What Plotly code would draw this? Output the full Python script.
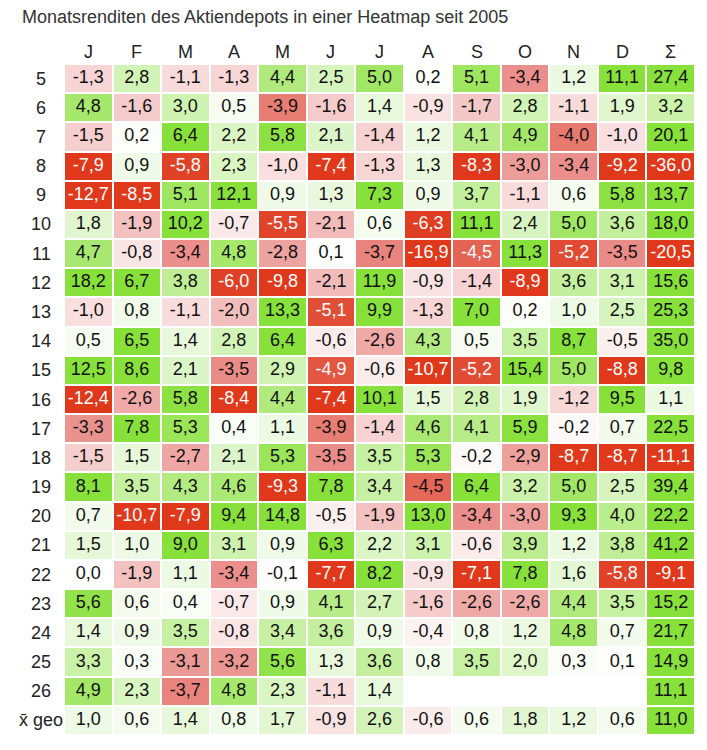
import plotly.graph_objects as go

months = ["J", "F", "M", "A", "M", "J", "J", "A", "S", "O", "N", "D", "Σ"]
row_labels = ["5", "6", "7", "8", "9", "10", "11", "12", "13", "14", "15", "16",
              "17", "18", "19", "20", "21", "22", "23", "24", "25", "26", "x̄ geo"]
title_text = "Monatsrenditen des Aktiendepots in einer Heatmap seit 2005"

r05 = [-1.3, 2.8, -1.1, -1.3, 4.4, 2.5, 5.0, 0.2, 5.1, -3.4, 1.2, 11.1, 27.4]
r06 = [4.8, -1.6, 3.0, 0.5, -3.9, -1.6, 1.4, -0.9, -1.7, 2.8, -1.1, 1.9, 3.2]
r07 = [-1.5, 0.2, 6.4, 2.2, 5.8, 2.1, -1.4, 1.2, 4.1, 4.9, -4.0, -1.0, 20.1]
r08 = [-7.9, 0.9, -5.8, 2.3, -1.0, -7.4, -1.3, 1.3, -8.3, -3.0, -3.4, -9.2, -36.0]
r09 = [-12.7, -8.5, 5.1, 12.1, 0.9, 1.3, 7.3, 0.9, 3.7, -1.1, 0.6, 5.8, 13.7]
r10 = [1.8, -1.9, 10.2, -0.7, -5.5, -2.1, 0.6, -6.3, 11.1, 2.4, 5.0, 3.6, 18.0]
r11 = [4.7, -0.8, -3.4, 4.8, -2.8, 0.1, -3.7, -16.9, -4.54, 11.3, -5.2, -3.5, -20.5]
r12 = [18.2, 6.7, 3.8, -6.0, -9.8, -2.1, 11.9, -0.9, -1.4, -8.9, 3.6, 3.1, 15.6]
r13 = [-1.0, 0.8, -1.1, -2.0, 13.3, -5.1, 9.9, -1.3, 7.0, 0.2, 1.0, 2.5, 25.3]
r14 = [0.5, 6.5, 1.4, 2.8, 6.4, -0.6, -2.6, 4.3, 0.5, 3.5, 8.7, -0.5, 35.0]
r15 = [12.5, 8.6, 2.1, -3.5, 2.9, -4.9, -0.6, -10.7, -5.2, 15.4, 5.0, -8.8, 9.8]
r16 = [-12.4, -2.6, 5.8, -8.4, 4.4, -7.4, 10.1, 1.5, 2.8, 1.9, -1.2, 9.5, 1.1]
r17 = [-3.3, 7.8, 5.3, 0.4, 1.1, -3.9, -1.4, 4.6, 4.1, 5.9, -0.2, 0.7, 22.5]
r18 = [-1.5, 1.5, -2.7, 2.1, 5.3, -3.5, 3.5, 5.3, -0.2, -2.9, -8.7, -8.7, -11.1]
r19 = [8.1, 3.5, 4.3, 4.6, -9.3, 7.8, 3.4, -4.46, 6.4, 3.2, 5.0, 2.5, 39.4]
r20 = [0.7, -10.7, -7.9, 9.4, 14.8, -0.5, -1.9, 13.0, -3.4, -3.0, 9.3, 4.0, 22.2]
r21 = [1.5, 1.0, 9.0, 3.1, 0.9, 6.3, 2.2, 3.1, -0.6, 3.9, 1.2, 3.8, 41.2]
r22 = [0.0, -1.9, 1.1, -3.4, -0.1, -7.7, 8.2, -0.9, -7.1, 7.8, 1.6, -5.8, -9.1]
r23 = [5.6, 0.6, 0.4, -0.7, 0.9, 4.1, 2.7, -1.6, -2.6, -2.6, 4.4, 3.5, 15.2]
r24 = [1.4, 0.9, 3.5, -0.8, 3.4, 3.6, 0.9, -0.4, 0.8, 1.2, 4.8, 0.7, 21.7]
r25 = [3.3, 0.3, -3.1, -3.2, 5.6, 1.3, 3.6, 0.8, 3.5, 2.0, 0.3, 0.1, 14.9]
r26 = [4.9, 2.3, -3.7, 4.8, 2.3, -1.1, 1.4, None, None, None, None, None, 11.1]
rgeo = [1.0, 0.6, 1.4, 0.8, 1.7, -0.9, 2.6, -0.6, 0.6, 1.8, 1.2, 0.6, 11.0]

z = [r05, r06, r07, r08, r09, r10, r11, r12, r13, r14, r15, r16, r17, r18,
     r19, r20, r21, r22, r23, r24, r25, r26, rgeo]

ncol = len(months)
nrow = len(row_labels)
FONT = "Liberation Sans, Arial, sans-serif"

colorscale = [
    [0.0, "rgb(224,56,26)"],
    [0.12, "rgb(224,70,45)"],
    [0.25, "rgb(233,140,135)"],
    [0.40, "rgb(246,210,210)"],
    [0.5, "rgb(255,255,255)"],
    [0.58, "rgb(236,249,226)"],
    [0.75, "rgb(198,240,162)"],
    [0.93, "rgb(136,224,58)"],
    [1.0, "rgb(136,224,58)"],
]

fig = go.Figure()
fig.add_trace(go.Heatmap(
    z=z, x=list(range(ncol)), y=list(range(nrow)),
    zmin=-7, zmax=7, colorscale=colorscale, showscale=False,
    xgap=2, ygap=2, hoverinfo="skip",
))

tx, ty, tt, tc = [], [], [], []
for i, row in enumerate(z):
    for j, v in enumerate(row):
        if v is None:
            continue
        tx.append(j)
        ty.append(i)
        tt.append(f"{v:.1f}".replace(".", ","))
        tc.append("white" if v < -4.5 else "#111111")

fig.add_trace(go.Scatter(
    x=tx, y=ty, text=tt, mode="text",
    textfont=dict(family=FONT, size=18, color=tc),
    hoverinfo="skip", showlegend=False,
))

annotations = []
for j, m in enumerate(months):
    annotations.append(dict(x=j, y=1.018, xref="x", yref="paper", text=m,
                            showarrow=False, yanchor="middle",
                            font=dict(family=FONT, size=18, color="#222222")))
for i, lab in enumerate(row_labels):
    annotations.append(dict(x=-0.0364, y=i, xref="paper", yref="y", text=lab,
                            showarrow=False, xanchor="center",
                            font=dict(family=FONT, size=18, color="#222222")))
annotations.append(dict(x=-(64 - 20) / 631, y=1 + (64 - 17) / 671, xref="paper", yref="paper",
                        text=title_text, showarrow=False, xanchor="left", yanchor="middle",
                        font=dict(family=FONT, size=18, color="#333333")))

fig.update_layout(
    width=707, height=750,
    margin=dict(l=64, r=12, t=64, b=15),
    paper_bgcolor="white", plot_bgcolor="white",
    xaxis=dict(range=[-0.5, ncol - 0.5], showgrid=False, zeroline=False,
               showticklabels=False, ticks="", fixedrange=True),
    yaxis=dict(range=[nrow - 0.5, -0.5], showgrid=False, zeroline=False,
               showticklabels=False, ticks="", fixedrange=True),
    annotations=annotations,
    showlegend=False,
)

fig.write_html("out.html")
